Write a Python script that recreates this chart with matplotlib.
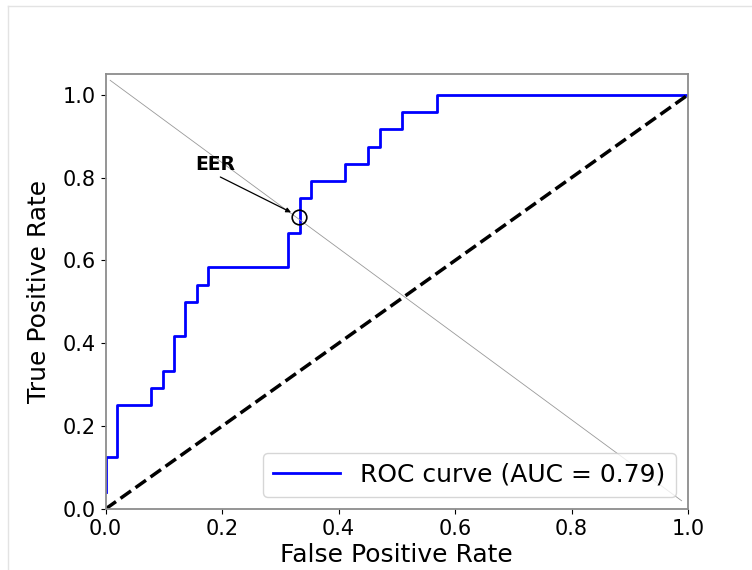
import numpy as np
import matplotlib
matplotlib.use('Agg')
import matplotlib.pyplot as plt
from matplotlib.lines import Line2D

# ROC corner points, read as counts (51 negatives, 24 positives)
n_neg = 51
n_pos = 24
fpr_counts = [0, 0, 1, 1, 4, 4, 5, 5, 6, 6, 7, 7, 8, 8, 9, 9, 16, 16, 17, 17,
              18, 18, 21, 21, 23, 23, 24, 24, 26, 26, 29, 29, 51]
tpr_counts = [1, 3, 3, 6, 6, 7, 7, 8, 8, 10, 10, 12, 12, 13, 13, 14, 14, 16, 16, 18,
              18, 19, 19, 20, 20, 21, 21, 22, 22, 23, 23, 24, 24]
auc_value = 0.79

# chance diagonal and the thin EER guide line
chance_x = [0, 1]
chance_y = [0, 1]
eer_line_x = [0.008, 0.989]
eer_line_y = [1.035, 0.020]

# EER point
eer_x = 0.333
eer_y = 0.706

fpr = np.array(fpr_counts) / n_neg
tpr = np.array(tpr_counts) / n_pos

fig = plt.figure(figsize=(7.52, 5.70), dpi=100)
ax = fig.add_axes([0.1403, 0.107, 0.7746, 0.763])

ax.plot(fpr, tpr, color='blue', lw=2, label=f'ROC curve (AUC = {auc_value:.2f})')
ax.plot(chance_x, chance_y, color='black', lw=2.5, linestyle='--')
ax.plot(eer_line_x, eer_line_y, color='#999999', lw=0.6)
ax.plot(eer_x, eer_y, 'o', markersize=10.5, markerfacecolor='none',
        markeredgecolor='black', markeredgewidth=1.2)

# arrow and label for the EER point
ax.annotate('', xy=(eer_x, eer_y), xytext=(-57, 28.5), textcoords='offset points',
            arrowprops=dict(arrowstyle='-|>', color='black', lw=0.9,
                            mutation_scale=7, shrinkA=0, shrinkB=6.8))
ax.annotate('EER', xy=(eer_x, eer_y), xytext=(-60.7, 37.4), textcoords='offset points',
            ha='center', va='center', fontsize=13.5, fontweight='bold')

ax.set_xlim(0, 1)
ax.set_ylim(0, 1.05)
ax.set_xlabel('False Positive Rate', fontsize=18, labelpad=3)
ax.set_ylabel('True Positive Rate', fontsize=18, labelpad=8)
ax.tick_params(labelsize=15)
for s in ax.spines.values():
    s.set_color('#8c8c8c')
    s.set_linewidth(1.3)
ax.legend(loc='lower right', fontsize=18, handlelength=2.7)

# faint border of the screenshot
fig.add_artist(Line2D([8 / 752, 1], [1 - 6 / 570, 1 - 6 / 570], color='#e3e3e3', lw=1))
fig.add_artist(Line2D([8 / 752, 8 / 752], [0, 1 - 6 / 570], color='#e3e3e3', lw=1))

fig.savefig('out.png', dpi=100)
